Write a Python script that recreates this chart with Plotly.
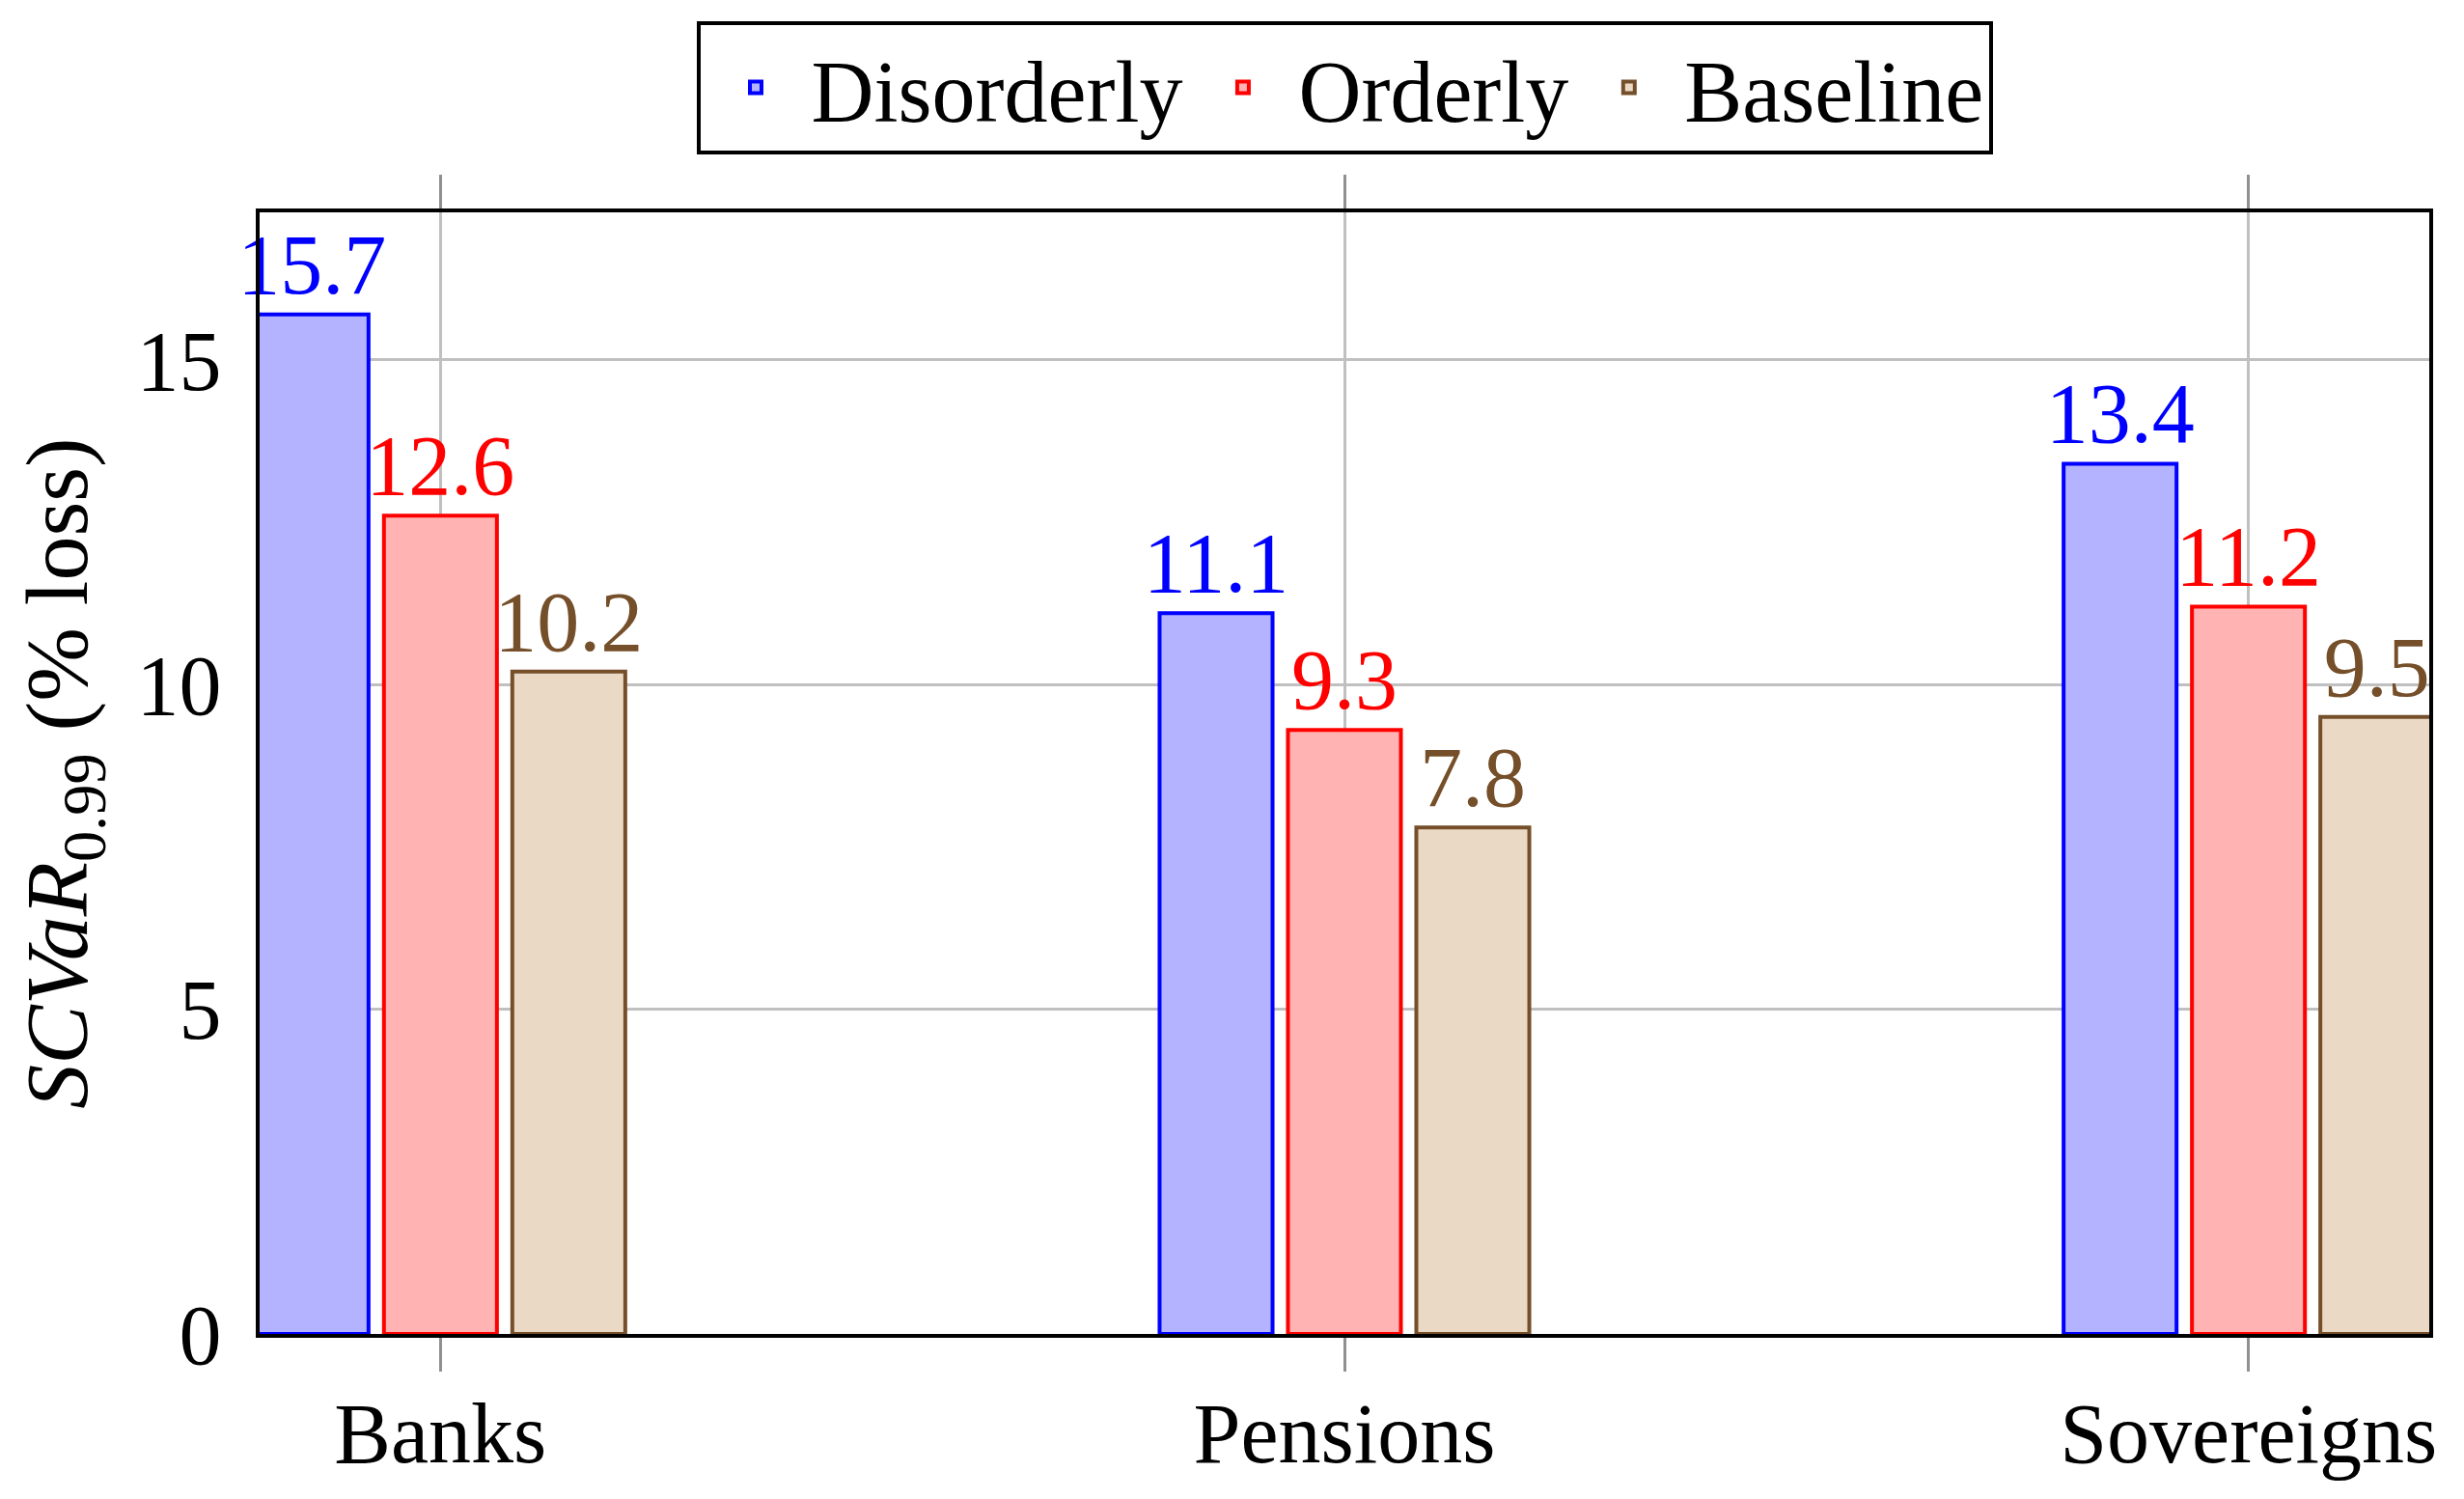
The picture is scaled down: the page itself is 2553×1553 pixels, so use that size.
import plotly.graph_objects as go

categories = ["Banks", "Pensions", "Sovereigns"]
disorderly = [15.7, 11.1, 13.4]
orderly = [12.6, 9.3, 11.2]
baseline = [10.2, 7.8, 9.5]
ytick_vals = [0, 5, 10, 15]

FONT = "Liberation Serif"
FS = 88

series = [
    ("Disorderly", disorderly, "#b3b3ff", "#0000ff"),
    ("Orderly", orderly, "#ffb3b3", "#ff0000"),
    ("Baseline", baseline, "#ead9c5", "#754f2a"),
]

fig = go.Figure()
for name, vals, fill, line in series:
    fig.add_trace(go.Bar(
        x=categories, y=vals, name=name,
        marker=dict(color=fill, line=dict(color=line, width=4)),
        text=[f"{v:.1f}" for v in vals],
        textposition="outside",
        textfont=dict(family=FONT, size=FS, color=line),
        constraintext="none",
        cliponaxis=False,
    ))

fig.update_layout(
    width=2545, height=1545,
    paper_bgcolor="white", plot_bgcolor="white",
    barmode="group", bargap=0.574, bargroupgap=0.12,
    margin=dict(l=261, r=36, t=212, b=171),
    font=dict(family=FONT, size=FS, color="black"),
    legend=dict(
        orientation="h", x=0.5, xanchor="center", y=1.052, yanchor="bottom",
        bordercolor="black", borderwidth=4, bgcolor="white",
        font=dict(family=FONT, size=90), itemwidth=105,
        tracegroupgap=0,
    ),
    showlegend=True,
)
fig.update_xaxes(
    type="category", range=[-0.2, 2.2],
    showgrid=True, gridcolor="#c0c0c0", gridwidth=3,
    showline=True, linecolor="black", linewidth=4, mirror="allticks",
    ticks="outside", ticklen=35, tickwidth=3, tickcolor="#909090",
    tickfont=dict(family=FONT, size=FS),
    ticklabelstandoff=-12,
)
fig.update_yaxes(
    range=[0, 17.27], tickvals=ytick_vals,
    showgrid=True, gridcolor="#c0c0c0", gridwidth=3,
    showline=True, linecolor="black", linewidth=4, mirror=True,
    ticks="", zeroline=False,
    tickfont=dict(family=FONT, size=FS),
    ticklabelstandoff=18,
    title=dict(text="<i>SCVaR</i><sub>0.99</sub> (% loss)", font=dict(family=FONT, size=92), standoff=30),
)

fig.write_html("out.html")
